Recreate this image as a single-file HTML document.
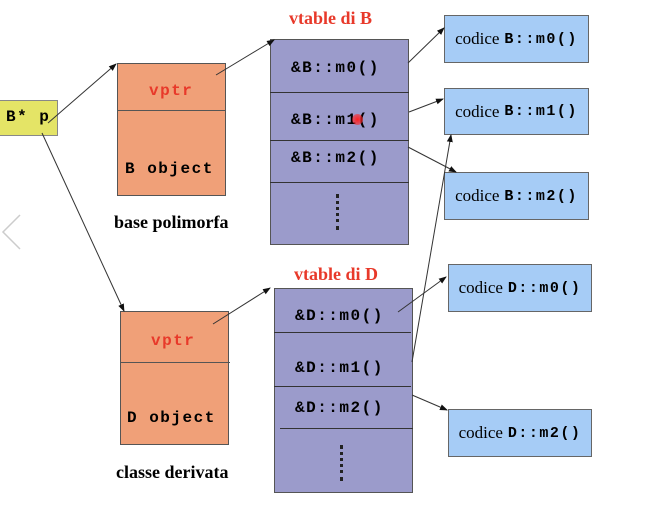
<!DOCTYPE html>
<html><head><style>
body{margin:0;width:648px;height:516px;background:#fff;position:relative;overflow:hidden;font-family:"Liberation Sans",sans-serif}
.a{position:absolute;box-sizing:border-box}
.mono{font-family:"Liberation Mono",monospace;font-weight:bold;letter-spacing:1.5px}
.ser{font-family:"Liberation Serif",serif}
.or{background:#f0a078;border:1px solid #555}
.pu{background:#9b9bcb;border:1px solid #555}
.bl{background:#a6ccf6;border:1px solid #666;font-family:"Liberation Serif",serif;font-size:17px;display:flex;align-items:center;justify-content:center;white-space:nowrap}
.bl b{font-family:"Liberation Mono",monospace;font-size:15px;margin-left:5px;letter-spacing:1.5px}
.t{position:absolute;font-size:16px;white-space:nowrap}
</style></head><body>
<div class="a" style="left:-2px;top:100px;width:60px;height:36px;background:#e4e466;border:1px solid #888"></div>
<div class="t mono" style="left:6px;top:108px;font-size:16px">B* p</div>

<div class="a or" style="left:117px;top:63px;width:109px;height:133px"></div>
<div class="a" style="left:117px;top:110px;width:109px;height:1px;background:#555"></div>
<div class="t mono" style="left:149px;top:82px;color:#e8392a">vptr</div>
<div class="t mono" style="left:125px;top:160px">B object</div>
<div class="t ser" style="left:114px;top:212px;font-weight:bold;font-size:18px">base polimorfa</div>

<div class="t ser" style="left:289px;top:8px;color:#e8392a;font-weight:bold;font-size:18px">vtable di B</div>
<div class="a pu" style="left:270px;top:39px;width:139px;height:206px"></div>
<div class="a" style="left:270px;top:92px;width:139px;height:1px;background:#333"></div>
<div class="a" style="left:270px;top:140px;width:139px;height:1px;background:#333"></div>
<div class="a" style="left:270px;top:182px;width:139px;height:1px;background:#333"></div>
<div class="t mono" style="left:291px;top:59px">&amp;B::m0()</div>
<div class="t mono" style="left:291px;top:111px">&amp;B::m1()</div>
<div class="a" style="left:352px;top:114px;width:11px;height:11px;border-radius:50%;background:radial-gradient(#ff2020,rgba(255,40,40,0.35))"></div>
<div class="t mono" style="left:291px;top:149px">&amp;B::m2()</div>
<div class="a" style="left:336px;top:194px;width:0;height:36px;border-left:3px dotted #222"></div>

<div class="a bl" style="left:444px;top:15px;width:145px;height:48px">codice<b>B::m0()</b></div>
<div class="a bl" style="left:444px;top:88px;width:145px;height:47px">codice<b>B::m1()</b></div>
<div class="a bl" style="left:444px;top:172px;width:145px;height:48px">codice<b>B::m2()</b></div>

<div class="a or" style="left:120px;top:311px;width:109px;height:134px"></div>
<div class="a" style="left:120px;top:362px;width:110px;height:1px;background:#555"></div>
<div class="t mono" style="left:151px;top:332px;color:#e8392a">vptr</div>
<div class="t mono" style="left:127px;top:409px">D object</div>
<div class="t ser" style="left:116px;top:462px;font-weight:bold;font-size:18px">classe derivata</div>

<div class="t ser" style="left:294px;top:264px;color:#e8392a;font-weight:bold;font-size:18px">vtable di D</div>
<div class="a pu" style="left:274px;top:288px;width:139px;height:205px"></div>
<div class="a" style="left:274px;top:332px;width:137px;height:1px;background:#333"></div>
<div class="a" style="left:274px;top:386px;width:137px;height:1px;background:#333"></div>
<div class="a" style="left:280px;top:428px;width:133px;height:1px;background:#333"></div>
<div class="t mono" style="left:295px;top:307px">&amp;D::m0()</div>
<div class="t mono" style="left:295px;top:359px">&amp;D::m1()</div>
<div class="t mono" style="left:295px;top:399px">&amp;D::m2()</div>
<div class="a" style="left:340px;top:445px;width:0;height:36px;border-left:3px dotted #222"></div>

<div class="a bl" style="left:448px;top:264px;width:144px;height:48px">codice<b>D::m0()</b></div>
<div class="a bl" style="left:448px;top:409px;width:144px;height:48px">codice<b>D::m2()</b></div>

<svg class="a" style="left:0;top:0" width="648" height="516">
<defs><marker id="m" markerWidth="8" markerHeight="8" refX="7" refY="4" orient="auto" markerUnits="userSpaceOnUse"><path d="M0,1 L8,4 L0,7z" fill="#111"/></marker></defs>
<g stroke="#333" stroke-width="1" fill="none" marker-end="url(#m)">
<line x1="48" y1="123" x2="116" y2="64"/>
<line x1="42" y1="133" x2="124" y2="311"/>
<line x1="216" y1="75" x2="274" y2="40"/>
<line x1="213" y1="324" x2="270" y2="288"/>
<line x1="408" y1="63" x2="444" y2="28"/>
<line x1="409" y1="112" x2="443" y2="99"/>
<line x1="408" y1="147" x2="456" y2="172"/>
<line x1="412" y1="362" x2="451" y2="135"/>
<line x1="398" y1="312" x2="446" y2="277"/>
<line x1="412" y1="395" x2="447" y2="410"/>
</g>
<polyline points="20,215 3,232 20,249" stroke="#ccc" stroke-width="1.5" fill="none"/>
</svg>
</body></html>
